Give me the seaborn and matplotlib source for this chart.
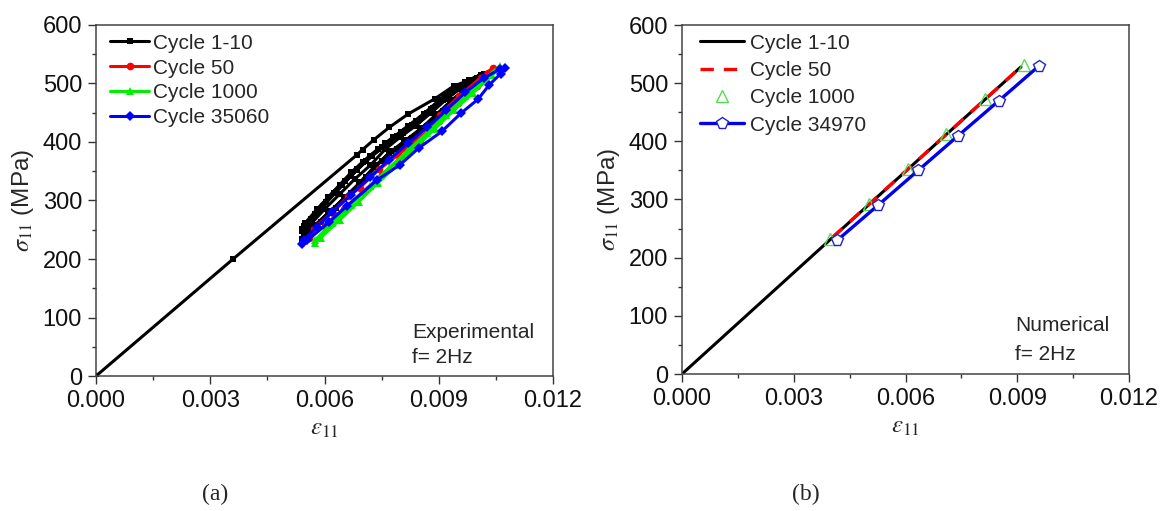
import matplotlib
matplotlib.use("Agg")
import matplotlib.pyplot as plt
import seaborn as sns
from matplotlib.ticker import MultipleLocator, FormatStrFormatter

# ---------------- data: (a) Experimental ----------------
# Cycle 1-10: initial loading then several hysteresis loops
blk_load_x = [0.0, 0.0036, 0.00685, 0.0070, 0.0073, 0.0077, 0.0082, 0.0089, 0.0094, 0.0097, 0.0101, 0.0102]
blk_load_y = [0, 200, 378, 387, 404, 425, 448, 474, 496, 503, 515, 517]
blk_loop1_x = [0.0099, 0.0095, 0.0091, 0.0087, 0.0083, 0.0079, 0.0075, 0.0071, 0.0067, 0.0063, 0.0059, 0.0056, 0.0054,
               0.0055, 0.0058, 0.0061, 0.0064, 0.0067, 0.0070, 0.0074, 0.0078, 0.0082, 0.0086, 0.0090, 0.0094, 0.0098, 0.0101]
blk_loop1_y = [497, 476, 453, 428, 406, 388, 368, 340, 313, 288, 263, 245, 235,
               262, 285, 306, 327, 348, 366, 388, 408, 428, 448, 471, 492, 506, 515]
blk_loop2_x = [0.0101, 0.0097, 0.0093, 0.0089, 0.0085, 0.0081, 0.0077, 0.0073, 0.0069, 0.0065, 0.0061, 0.0057, 0.00545,
               0.0054, 0.00565, 0.00595, 0.00625, 0.00655, 0.00685, 0.0072, 0.0076, 0.0080, 0.0084, 0.0088, 0.0092, 0.0096, 0.0100, 0.0102]
blk_loop2_y = [507, 489, 467, 443, 420, 400, 381, 357, 329, 303, 278, 253, 240,
               252, 268, 290, 312, 333, 354, 376, 398, 417, 436, 457, 479, 496, 509, 514]
blk_loop3_x = [0.0100, 0.0096, 0.0092, 0.0088, 0.0084, 0.0080, 0.0076, 0.0072, 0.0068, 0.0064, 0.0060, 0.0056, 0.0054,
               0.0055, 0.0059, 0.0063, 0.0067, 0.0071, 0.0075, 0.0079, 0.0083, 0.0087, 0.0091, 0.0095, 0.0099, 0.0102]
blk_loop3_y = [507, 493, 473, 450, 428, 409, 388, 360, 337, 311, 285, 257, 248,
               256, 286, 314, 342, 368, 391, 410, 429, 449, 472, 491, 505, 513]
blk_loop4_x = [0.01015, 0.00975, 0.00935, 0.00895, 0.00855, 0.00815, 0.00775, 0.00735, 0.00695, 0.00655, 0.00615, 0.00575, 0.0055,
               0.00545, 0.00575, 0.00605, 0.00645, 0.00685, 0.00725, 0.00765, 0.00805, 0.00845, 0.00885, 0.00925, 0.00965, 0.01005]
blk_loop4_y = [514, 493, 472, 448, 424, 404, 384, 360, 331, 306, 282, 258, 246,
               256, 277, 298, 326, 352, 376, 397, 416, 436, 458, 480, 498, 510]

red_x = [0.0056, 0.00572, 0.0062, 0.00663, 0.00693, 0.00743, 0.00793, 0.00843, 0.00873, 0.00903, 0.00953, 0.0101, 0.01043,
         0.0103, 0.0100, 0.0095, 0.0090, 0.0085, 0.0080, 0.0075, 0.0070, 0.0065, 0.0060, 0.0056]
red_y = [238, 252, 280, 307, 322, 353, 378, 404, 420, 447, 478, 510, 527,
         518, 496, 466, 436, 404, 373, 344, 314, 286, 257, 236]

grn_x = [0.00575, 0.0062, 0.0067, 0.0072, 0.0077, 0.0082, 0.0087, 0.0092, 0.0097, 0.0102, 0.0106,
         0.0104, 0.0099, 0.0094, 0.0089, 0.0084, 0.0079, 0.0074, 0.0069, 0.0064, 0.0059, 0.00575]
grn_y = [232, 262, 293, 325, 356, 386, 416, 447, 478, 507, 530,
         514, 484, 454, 423, 391, 360, 330, 298, 267, 236, 227]

blu_x = [0.01073, 0.01063, 0.01033, 0.01003, 0.00958, 0.00908, 0.00848, 0.00798, 0.00738, 0.00658, 0.00612, 0.00555, 0.00542,
         0.00545, 0.0058, 0.0062, 0.0067, 0.0072, 0.0077, 0.0082, 0.0087, 0.0092, 0.0097, 0.0102, 0.0106]
blu_y = [526, 517, 498, 473, 449, 418, 390, 361, 335, 290, 263, 232, 226,
         232, 255, 280, 310, 340, 370, 398, 425, 455, 485, 510, 524]

labels_a = ["Cycle 1-10", "Cycle 50", "Cycle 1000", "Cycle 35060"]

# ---------------- data: (b) Numerical ----------------
num_blk_x = [0.0, 0.00396, 0.0091]
num_blk_y = [0, 230, 528]
num_red_x = [0.00404, 0.0091]
num_red_y = [235, 528]
num_grn_x = [0.00396, 0.00503, 0.00607, 0.0071, 0.00813, 0.00917]
num_grn_y = [232, 292, 352, 412, 472, 532]
num_blu_x = [0.00417, 0.00526, 0.00634, 0.00742, 0.00851, 0.00959]
num_blu_y = [230, 290, 350, 410, 470, 530]

labels_b = ["Cycle 1-10", "Cycle 50", "Cycle 1000", "Cycle 34970"]

x_ticks = [0.0, 0.003, 0.006, 0.009, 0.012]
y_ticks = [0, 100, 200, 300, 400, 500, 600]

# ---------------- style ----------------
sns.set_theme(style="ticks")
plt.rcParams["font.family"] = ["Liberation Sans", "DejaVu Sans"]
plt.rcParams["mathtext.fontset"] = "stix"

W, H = 1172, 511
fig = plt.figure(figsize=(W / 100, H / 100), dpi=100)
ax1 = fig.add_axes([96 / W, (H - 376) / H, 457 / W, 351 / H])
ax2 = fig.add_axes([682 / W, (H - 374) / H, 447 / W, 349 / H])


def line(ax, x, y, **kw):
    sns.lineplot(x=x, y=y, ax=ax, sort=False, estimator=None, **kw)


blk_x = blk_load_x + blk_loop1_x + blk_loop2_x + blk_loop3_x + blk_loop4_x
blk_y = blk_load_y + blk_loop1_y + blk_loop2_y + blk_loop3_y + blk_loop4_y

line(ax1, blk_x, blk_y, color="black", linewidth=2.2, marker="s", markersize=5,
     markeredgewidth=0, label=labels_a[0])
line(ax1, red_x, red_y, color="#ff0000", linewidth=2.2, marker="o", markersize=5.5,
     markeredgewidth=0, label=labels_a[1])
line(ax1, grn_x, grn_y, color="#00ee00", linewidth=2.2, marker="^", markersize=6,
     markeredgewidth=0, label=labels_a[2])
line(ax1, blu_x, blu_y, color="#0000ff", linewidth=2.2, marker="D", markersize=5,
     markeredgewidth=0, label=labels_a[3])

line(ax2, num_blk_x, num_blk_y, color="black", linewidth=2.2, label=labels_b[0])
line(ax2, num_red_x, num_red_y, color="#ff0000", linewidth=2.4, linestyle=(0, (4, 3)), label=labels_b[1])
line(ax2, num_grn_x, num_grn_y, color="#55dd55", linestyle="none", marker="^", markersize=9,
     markerfacecolor="none", markeredgecolor="#55dd55", markeredgewidth=1.0, label=labels_b[2])
line(ax2, num_blu_x, num_blu_y, color="#0000ee", linewidth=2.4, marker="p", markersize=8.5,
     markerfacecolor="white", markeredgecolor="#2222cc", markeredgewidth=1.0, label=labels_b[3])

for ax in (ax1, ax2):
    ax.set_xlim(0, 0.012)
    ax.set_ylim(0, 600)
    ax.set_xticks(x_ticks)
    ax.set_yticks(y_ticks)
    ax.xaxis.set_major_formatter(FormatStrFormatter("%.3f"))
    ax.xaxis.set_minor_locator(MultipleLocator(0.0015))
    ax.yaxis.set_minor_locator(MultipleLocator(50))
    ax.tick_params(which="major", direction="out", length=6, width=1, labelsize=17,
                   colors="#333333", labelcolor="#111111", pad=4)
    ax.tick_params(which="minor", direction="out", length=3, width=1, colors="#333333")
    for s in ax.spines.values():
        s.set_visible(True)
        s.set_color("#444444")
        s.set_linewidth(1.1)
    ax.set_xlabel(r"$\varepsilon_{11}$", fontsize=18, labelpad=3)
    ax.set_ylabel(r"$\sigma_{11}$ (MPa)", fontsize=17.5, labelpad=5)

ax1.legend(loc="upper left", bbox_to_anchor=(0.03, 0.975), frameon=False, fontsize=15,
           handlelength=1.9, handletextpad=0.2, labelspacing=0.28, borderpad=0, borderaxespad=0)
ax2.legend(loc="upper left", bbox_to_anchor=(0.04, 0.975), frameon=False, fontsize=15,
           handlelength=2.1, handletextpad=0.3, labelspacing=0.4, borderpad=0, borderaxespad=0)

ax1.text(0.691, 0.125, "Experimental", transform=ax1.transAxes, fontsize=15, ha="left", va="center")
ax1.text(0.691, 0.054, "f= 2Hz", transform=ax1.transAxes, fontsize=15, ha="left", va="center")
ax2.text(0.745, 0.140, "Numerical", transform=ax2.transAxes, fontsize=15, ha="left", va="center")
ax2.text(0.745, 0.057, "f= 2Hz", transform=ax2.transAxes, fontsize=15, ha="left", va="center")

fig.text(215 / W, 1 - 494 / H, "(a)", family="Liberation Serif", fontsize=17, ha="center", va="center")
fig.text(806 / W, 1 - 494 / H, "(b)", family="Liberation Serif", fontsize=17, ha="center", va="center")

fig.savefig("out.png", dpi=100, facecolor="white")
